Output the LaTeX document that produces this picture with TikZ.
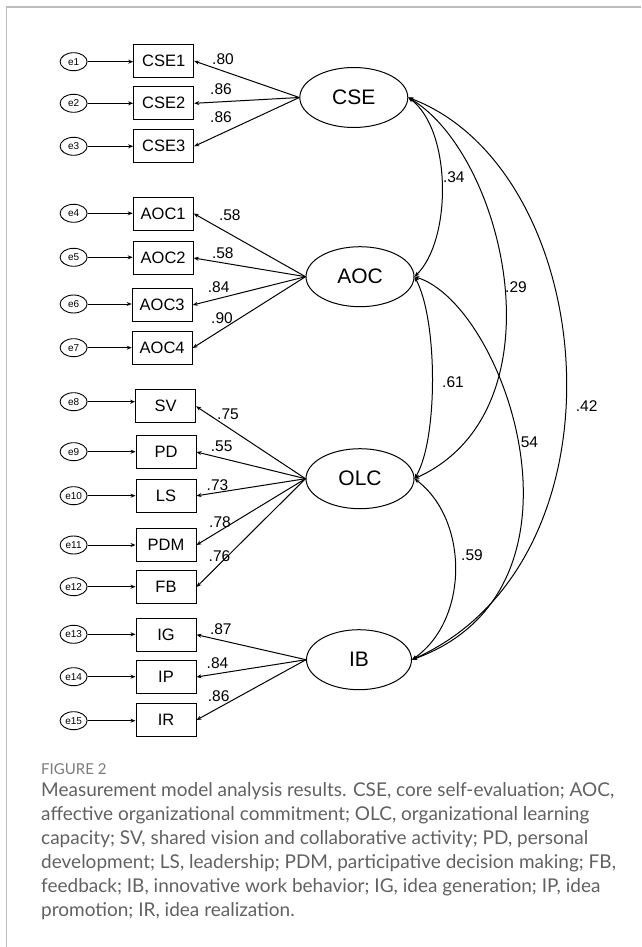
\documentclass[tikz,border=0pt]{standalone}
\usepackage{fontspec}
\setmainfont{Liberation Sans}
\newfontfamily\capfont{Lato}
\usetikzlibrary{arrows.meta,shapes.geometric}
\definecolor{capgray}{HTML}{616161}
\definecolor{figgray}{HTML}{7A7A7A}
\definecolor{framegray}{HTML}{BDBDBD}
\begin{document}
\begin{tikzpicture}[x=1pt,y=-1pt,
  errv/.style={draw, ellipse, line width=0.9pt, minimum width=27pt, minimum height=18pt, inner sep=0pt, font=\fontsize{10}{10}\selectfont},
  obs/.style={draw, line width=1pt, minimum width=60pt, minimum height=33pt, inner sep=0pt, font=\fontsize{16.5}{16.5}\selectfont},
  lat/.style={draw, ellipse, line width=1pt, minimum width=108pt, minimum height=60pt, inner sep=0pt, font=\fontsize{21}{21}\selectfont},
  lbl/.style={inner sep=0pt, font=\fontsize{15.5}{15.5}\selectfont},
  arr/.style={-{Stealth[length=5pt,width=4pt]}, line width=1pt},
  cov/.style={{Stealth[length=5pt,width=4pt]}-{Stealth[length=5pt,width=4pt]}, line width=1pt}]
\useasboundingbox (0,0) rectangle (641,947);
\draw[framegray, line width=1.5pt] (641,7) -- (6.5,7) -- (6.5,947);

% latent variables
\node[lat] (CSE) at (353.8,97.5) {CSE};
\node[lat] (AOC) at (360,276.7) {AOC};
\node[lat] (OLC) at (360,478.7) {OLC};
\node[lat, minimum width=105pt] (IB) at (359,659.7) {IB};

% observed
\node[obs] (CSE1) at (163.7,61) {CSE1};
\node[obs] (CSE2) at (163.7,103.3) {CSE2};
\node[obs] (CSE3) at (163.7,146.3) {CSE3};
\node[obs] (AOC1) at (163.2,213.5) {AOC1};
\node[obs] (AOC2) at (163.2,258) {AOC2};
\node[obs] (AOC3) at (162.2,305) {AOC3};
\node[obs] (AOC4) at (162.2,348) {AOC4};
\node[obs] (SV) at (165.6,406.3) {SV};
\node[obs] (PD) at (166,452) {PD};
\node[obs] (LS) at (166,495.8) {LS};
\node[obs] (PDM) at (166,545) {PDM};
\node[obs] (FB) at (166,587) {FB};
\node[obs] (IG) at (166,634.7) {IG};
\node[obs] (IP) at (166,677) {IP};
\node[obs] (IR) at (166,720) {IR};

% errors
\foreach \n/\y/\t in {1/61.7/CSE1,2/103.3/CSE2,3/146.3/CSE3,4/213.3/AOC1,5/257.3/AOC2,6/304/AOC3,7/347.7/AOC4,8/401.7/SV,9/451.7/PD,10/495.7/LS,11/545/PDM,12/586.7/FB,13/634.3/IG,14/676.7/IP,15/720.7/IR}{
  \node[errv] (e\n) at (73.6,\y) {e\n};
  \draw[arr] (e\n.east) -- (\t.west |- e\n.east);
}

% loadings
\foreach \f/\t in {CSE/CSE1,CSE/CSE2,CSE/CSE3,AOC/AOC1,AOC/AOC2,AOC/AOC3,AOC/AOC4,OLC/SV,OLC/PD,OLC/LS,OLC/PDM,OLC/FB,IB/IG,IB/IP,IB/IR}{
  \draw[arr] (\f.west) -- (\t.east);
}

\node[lbl] (l1) at (223,59.5) {.80};
\node[lbl] (l2) at (221,89) {.86};
\node[lbl] (l3) at (221,117) {.86};
\node[lbl] (l4) at (229.8,215) {.58};
\node[lbl] (l5) at (222.8,252.7) {.58};
\node[lbl] (l6) at (218.7,287.3) {.84};
\node[lbl] (l7) at (222,318.3) {.90};
\node[lbl] (l8) at (228,414) {.75};
\node[lbl] (l9) at (221.6,446.7) {.55};
\node[lbl] (l10) at (217.5,485) {.73};
\node[lbl] (l11) at (220,521.7) {.78};
\node[lbl] (l12) at (219.5,556) {.76};
\node[lbl] (l13) at (220.8,629.3) {.87};
\node[lbl] (l14) at (217.5,663.3) {.84};
\node[lbl] (l15) at (218.7,696) {.86};

% covariances
\draw[cov] (CSE.east) .. controls (452,130) and (452,240) .. (AOC.east);
\draw[cov] (CSE.east) .. controls (505,155) and (565,410) .. (OLC.east);
\draw[cov] (CSE.east) .. controls (600,170) and (635,560) .. (IB.east);
\draw[cov] (AOC.east) .. controls (438,320) and (438,440) .. (OLC.east);
\draw[cov] (AOC.east) .. controls (505,305) and (605,590) .. (IB.east);
\draw[cov] (OLC.east) .. controls (469,520) and (469,620) .. (IB.east);

\node[lbl] (c1) at (453.8,177) {.34};
\node[lbl] (c2) at (516,287.3) {.29};
\node[lbl] (c3) at (586.7,406) {.42};
\node[lbl] (c4) at (453,381.7) {.61};
\node[lbl] (c5) at (529.4,442.7) {54};
\node[lbl] (c6) at (472,555) {.59};

% caption
\node[anchor=west, inner sep=0pt, text=figgray, font=\capfont\fontsize{15}{15}\selectfont] (fig) at (41,769) {FIGURE 2};
\node[anchor=north west, inner sep=0pt, align=left, text=capgray, font=\capfont\fontsize{19}{24}\selectfont] (cap) at (41,782.5) {Measurement model analysis results. CSE, core self-evaluation; AOC,\\
affective organizational commitment; OLC, organizational learning\\
capacity; SV, shared vision and collaborative activity; PD, personal\\
development; LS, leadership; PDM, participative decision making; FB,\\
feedback; IB, innovative work behavior; IG, idea generation; IP, idea\\
promotion; IR, idea realization.};
\end{tikzpicture}
\end{document}
